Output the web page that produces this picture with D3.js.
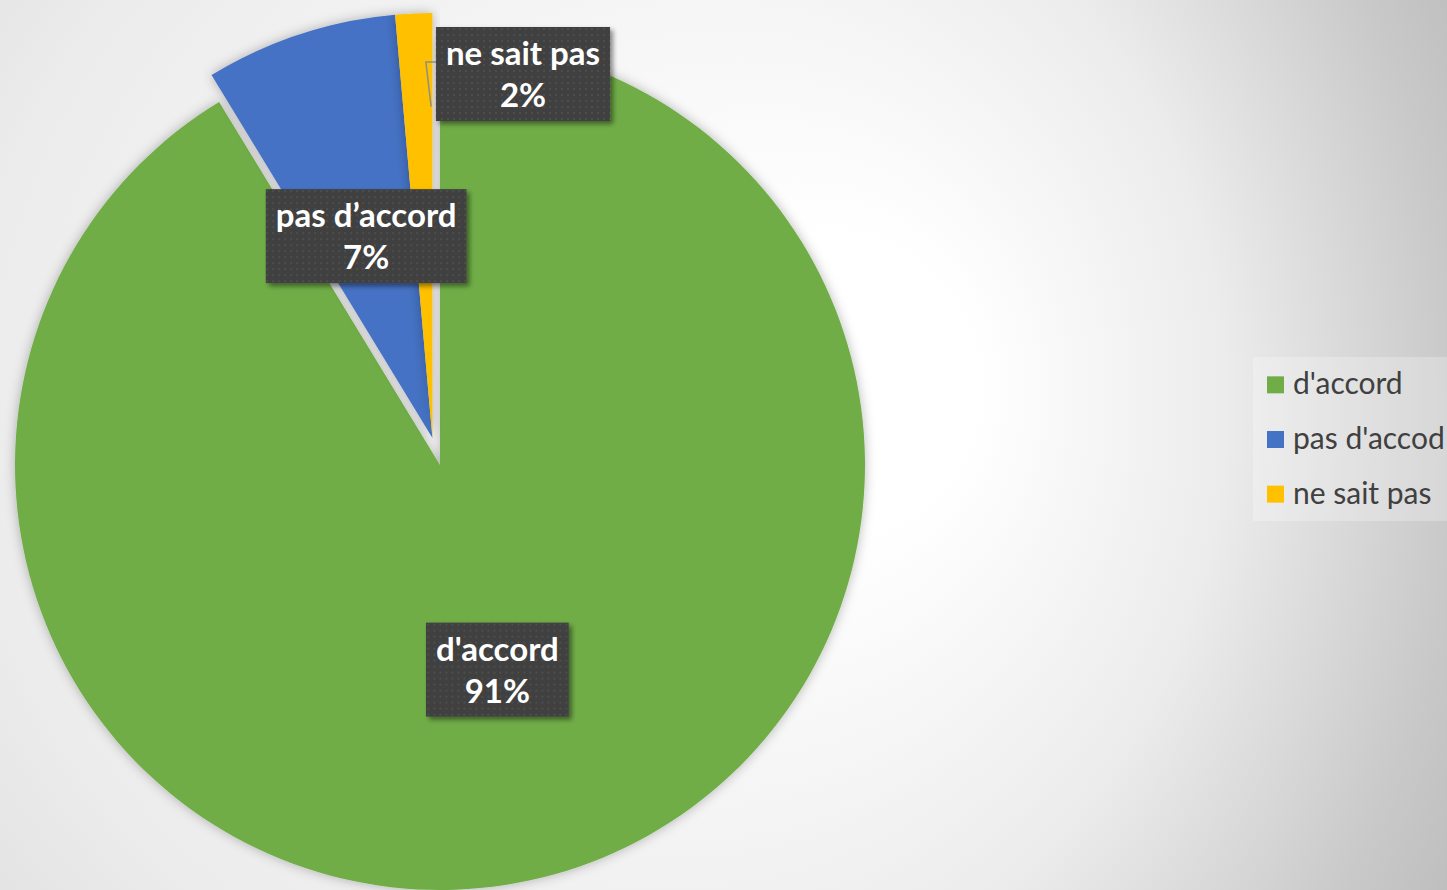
<!DOCTYPE html>
<html>
<head>
<meta charset="utf-8">
<script src="https://cdn.jsdelivr.net/npm/d3@7"></script>
<style>
  html, body { margin: 0; padding: 0; overflow: hidden; }
  svg { display: block; }
</style>
</head>
<body>
<div id="chart"></div>
<script>
// chart data
const categories = ["d'accord", "pas d'accord", "ne sait pas"]
const legendNames = ["d'accord", "pas d'accod", "ne sait pas"]
const labelNames = ["d'accord", "pas d\u2019accord", "ne sait pas"]
const values = [91.3, 7.3, 1.4]
const percentLabels = ["91%", "7%", "2%"]
const exploded = [false, true, true]
const colors = ["#70ad47", "#4472c4", "#ffc000"]

const width = 1447
const height = 890
const cx = 440
const cy = 465
const radius = 425
const explodeDist = 28

const svg = d3.select("#chart")
  .append("svg")
  .attr("width", width)
  .attr("height", height)

const defs = svg.append("defs")

// background: soft radial gradient, light near the top right of the pie
const bg = defs.append("radialGradient")
  .attr("id", "bg")
  .attr("gradientUnits", "userSpaceOnUse")
  .attr("cx", 300).attr("cy", 430).attr("r", 1250)
  .attr("fx", 900).attr("fy", 380)
bg.append("stop").attr("offset", 0).attr("stop-color", "#ffffff")
bg.append("stop").attr("offset", 0.12).attr("stop-color", "#ffffff")
bg.append("stop").attr("offset", 0.5).attr("stop-color", "#ececec")
bg.append("stop").attr("offset", 0.85).attr("stop-color", "#c9c9c9")
bg.append("stop").attr("offset", 1).attr("stop-color", "#bdbdbd")

const pieShadow = defs.append("filter").attr("id", "pieShadow")
  .attr("x", "-20%").attr("y", "-20%").attr("width", "140%").attr("height", "140%")
pieShadow.append("feDropShadow")
  .attr("dx", 0).attr("dy", 0).attr("stdDeviation", 6)
  .attr("flood-color", "#000").attr("flood-opacity", 0.28)

const boxShadow = defs.append("filter").attr("id", "boxShadow")
  .attr("x", "-20%").attr("y", "-20%").attr("width", "140%").attr("height", "140%")
boxShadow.append("feDropShadow")
  .attr("dx", 3).attr("dy", 3).attr("stdDeviation", 2.5)
  .attr("flood-color", "#000").attr("flood-opacity", 0.45)

const dots = defs.append("pattern")
  .attr("id", "dots")
  .attr("patternUnits", "userSpaceOnUse")
  .attr("width", 6).attr("height", 6)
dots.append("rect").attr("width", 6).attr("height", 6).attr("fill", "#404040")
dots.append("rect").attr("x", 2).attr("y", 2).attr("width", 2).attr("height", 2).attr("fill", "#4e4e4e")

svg.append("rect")
  .attr("width", width)
  .attr("height", height)
  .attr("fill", "url(#bg)")

// pie
const pie = d3.pie().sort(null).value(d => d)
const arcs = pie(values)
const arc = d3.arc().innerRadius(0).outerRadius(radius)

// exploded slices are pulled out together along their shared middle angle
const exAngles = arcs.filter((a, i) => exploded[i])
const exMid = (d3.min(exAngles, a => a.startAngle) + d3.max(exAngles, a => a.endAngle)) / 2
const exDx = Math.sin(exMid) * explodeDist
const exDy = -Math.cos(exMid) * explodeDist
function offset(i) {
  return exploded[i] ? [exDx, exDy] : [0, 0]
}

const g = svg.append("g")
  .attr("transform", `translate(${cx},${cy})`)

g.selectAll("path.slice")
  .data(arcs)
  .enter().append("path")
  .attr("class", "slice")
  .attr("d", arc)
  .attr("transform", (d, i) => `translate(${offset(i)[0]},${offset(i)[1]})`)
  .attr("fill", (d, i) => colors[i])
  .attr("filter", "url(#pieShadow)")

// data labels
const labelArc = d3.arc().innerRadius(radius * 0.5).outerRadius(radius * 0.5)
const labelFont = "Lato, 'Open Sans', sans-serif"
const labelSize = 33
const lineGap = 42

// label of the thin slice was moved outside by hand, with a leader line
const movedLabel = { index: 2, x: 523, y: 74 }

const labelPos = arcs.map((d, i) => {
  if (i === movedLabel.index) return [movedLabel.x - cx, movedLabel.y - cy]
  const c = labelArc.centroid(d)
  return [c[0] + offset(i)[0], c[1] + offset(i)[1]]
})

const labels = g.selectAll("g.label")
  .data(arcs)
  .enter().append("g")
  .attr("class", "label")
  .attr("transform", (d, i) => `translate(${labelPos[i][0]},${labelPos[i][1]})`)

const boxWidths = []
labels.each(function (d, i) {
  const lg = d3.select(this)
  const box = lg.append("rect")
  const t1 = lg.append("text")
    .attr("text-anchor", "middle")
    .attr("y", -lineGap / 2 + 12)
    .attr("font-family", labelFont)
    .attr("font-weight", "bold")
    .attr("font-size", labelSize)
    .attr("fill", "#fff")
    .text(labelNames[i])
  lg.append("text")
    .attr("text-anchor", "middle")
    .attr("y", lineGap / 2 + 12)
    .attr("font-family", labelFont)
    .attr("font-weight", "bold")
    .attr("font-size", labelSize)
    .attr("fill", "#fff")
    .text(percentLabels[i])
  const w = t1.node().getComputedTextLength() + 20
  boxWidths[i] = w
  box.attr("x", -w / 2)
    .attr("y", -47)
    .attr("width", w)
    .attr("height", 94)
    .attr("fill", "url(#dots)")
    .attr("filter", "url(#boxShadow)")
})

// leader line for the moved label
{
  const i = movedLabel.index
  const d = arcs[i]
  const ang = d.endAngle - 0.004
  const r = radius * 0.78
  const px = Math.sin(ang) * r + offset(i)[0]
  const py = -Math.cos(ang) * r + offset(i)[1]
  const boxLeft = labelPos[i][0] - boxWidths[i] / 2
  const ly = labelPos[i][1] - 12
  g.insert("polyline", "g.label")
    .attr("points", [[boxLeft, ly], [boxLeft - 10, ly], [px, py]].map(p => p.join(",")).join(" "))
    .attr("fill", "none")
    .attr("stroke", "#8c8c8c")
    .attr("stroke-width", 1.5)
}

// legend
const legend = svg.append("g")
  .attr("transform", "translate(1253,357)")

legend.append("rect")
  .attr("width", 200)
  .attr("height", 164)
  .attr("fill", "#ffffff")
  .attr("fill-opacity", 0.25)

const legendRow = d3.scaleBand()
  .domain(categories)
  .range([0, 164])
  .padding(0)

const items = legend.selectAll("g.item")
  .data(categories)
  .enter().append("g")
  .attr("class", "item")
  .attr("transform", d => `translate(14,${legendRow(d) + legendRow.bandwidth() / 2})`)

items.append("rect")
  .attr("x", 0)
  .attr("y", -8)
  .attr("width", 17)
  .attr("height", 17)
  .attr("fill", (d, i) => colors[i])

items.append("text")
  .attr("x", 26)
  .attr("y", 10)
  .attr("font-family", labelFont)
  .attr("font-size", 30)
  .attr("fill", "#404040")
  .text((d, i) => legendNames[i])
</script>
</body>
</html>
